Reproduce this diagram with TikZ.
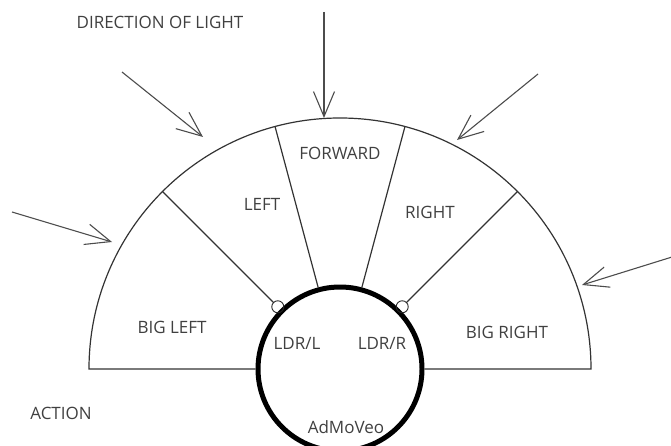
\documentclass[tikz,border=0pt]{standalone}
\usepackage{fontspec}
\setmainfont{Open Sans}
\usetikzlibrary{arrows.meta}

\begin{document}
\begin{tikzpicture}[x=1pt,y=1pt,
  lbl/.style={font=\fontsize{17}{19}\selectfont, text=black!75, inner sep=0pt},
  rim/.style={draw=black!80, line width=1.2pt},
  ray/.style={draw=black!70, line width=1.1pt, -{Straight Barb[length=25pt,width=21pt,line width=1.1pt]}},
  ldr/.style={circle, draw=black!85, line width=0.9pt, minimum size=12pt, inner sep=0pt}]
\useasboundingbox (0,0) rectangle (671,445);
\clip (0,0) rectangle (671,445);
\coordinate (c) at (340,76);
% sectors
\node[circle, minimum size=502pt, inner sep=0pt, outer sep=0pt] (dome) at (c) {};
\node[circle, draw=black, line width=5pt, minimum size=164pt, inner sep=0pt] (robot) at (c) {};
\draw[rim] (robot.west) -- (dome.west) arc[start angle=180, end angle=0, radius=251] -- (robot.east);
\node[ldr] (ldrl) at ([shift={(135:88)}]c) {};
\node[ldr] (ldrr) at ([shift={(45:88)}]c) {};
\draw[rim] (ldrl.135) -- (dome.135);
\draw[rim] (ldrr.45) -- (dome.45);
\draw[rim] (robot.105) -- (dome.105);
\draw[rim] (robot.75) -- (dome.75);
% light
\coordinate (sun1) at (324,433);
\coordinate (hit1) at (324,327);
\coordinate (sun2) at (122,373);
\coordinate (hit2) at (203,308);
\coordinate (sun3) at (12,233);
\coordinate (hit3) at (112,203);
\coordinate (sun4) at (538,371);
\coordinate (hit4) at (457,305);
\coordinate (sun5) at (672,188);
\coordinate (hit5) at (582,160);
\draw[ray] (sun1) -- (hit1);
\draw[ray] (sun2) -- (hit2);
\draw[ray] (sun3) -- (hit3);
\draw[ray] (sun4) -- (hit4);
\draw[ray] (sun5) -- (hit5);
% labels
\node[lbl] (light) at (160,423) {DIRECTION OF LIGHT};
\node[lbl] (fwd) at (340,292) {FORWARD};
\node[lbl] (left) at (262,241) {LEFT};
\node[lbl] (right) at (430,233) {RIGHT};
\node[lbl] (bigleft) at (172,118) {BIG LEFT};
\node[lbl] (bigright) at (507,113) {BIG RIGHT};
\node[lbl] (ldrltxt) at (297,102) {LDR/L};
\node[lbl] (ldrrtxt) at (382,102) {LDR/R};
\node[lbl] (name) at (346,18) {AdMoVeo};
\node[lbl] (action) at (61,32) {ACTION};
\end{tikzpicture}
\end{document}
